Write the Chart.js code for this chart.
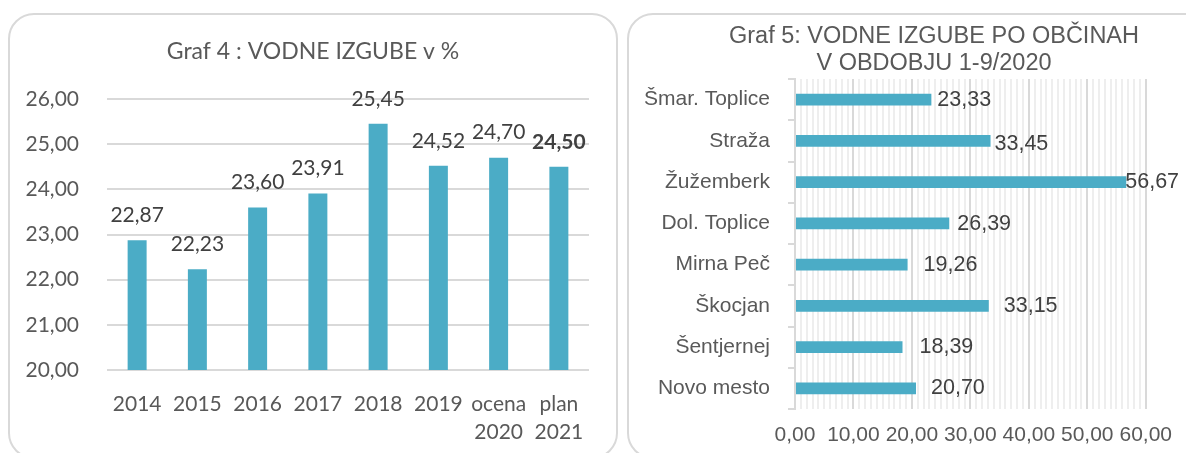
<!DOCTYPE html>
<html><head><meta charset="utf-8">
<script src="https://cdn.jsdelivr.net/npm/chart.js@4.4.1/dist/chart.umd.min.js"></script>
<style>
html,body{margin:0;padding:0;background:#fff;width:1186px;height:453px;overflow:hidden;position:relative}
.panel{position:absolute;border:2px solid #d9d9d9;border-radius:26px;box-sizing:border-box}
#p1{left:8px;top:13px;width:610px;height:446px}
#p2{left:627px;top:13px;width:590px;height:446px}
.cv{position:absolute;top:0}
#w1{left:0;width:620px;height:453px}
#w2{left:620px;width:566px;height:453px}
</style></head><body>
<div class="panel" id="p1"></div><div class="panel" id="p2"></div>
<div class="cv" id="w1"><canvas id="c1" width="620" height="453"></canvas></div>
<div class="cv" id="w2"><canvas id="c2" width="566" height="453"></canvas></div>
<script>
// ---- data ----
const years = ['2014','2015','2016','2017','2018','2019',['ocena','2020'],['plan','2021']];
const losses = [22.87,22.23,23.60,23.91,25.45,24.52,24.70,24.50];
const lossAxisMin = 20, lossAxisMax = 26, lossAxisStep = 1;
const title1 = ['Graf 4 : VODNE IZGUBE v %'];

const municipalities = ['Šmar. Toplice','Straža','Žužemberk','Dol. Toplice','Mirna Peč','Škocjan','Šentjernej','Novo mesto'];
const municipalLosses = [23.33,33.45,56.67,26.39,19.26,33.15,18.39,20.70];
const muniAxisMin = 0, muniAxisMax = 60, muniMajorStep = 10;
const title2 = ['Graf 5: VODNE IZGUBE PO OBČINAH','V OBDOBJU 1-9/2020'];

// ---- helpers ----
const fmt = v => Number(v).toFixed(2).replace('.', ',');
const BAR = '#4bacc6';
const ARIAL = '"Liberation Sans", Arial, sans-serif';

const valueLabels = {
  id: 'valueLabels',
  afterDatasetsDraw(chart, args, o) {
    const ctx = chart.ctx;
    const meta = chart.getDatasetMeta(0);
    const data = chart.data.datasets[0].data;
    ctx.save();
    ctx.fillStyle = o.color;
    ctx.textBaseline = 'middle';
    meta.data.forEach((el, i) => {
      ctx.font = (o.boldIndex === i ? 'bold ' : '') + o.size + 'px ' + o.family;
      if (o.horizontal) {
        ctx.textAlign = 'left';
        ctx.fillText(fmt(data[i]), el.x + (o.gaps ? o.gaps[i] : 8), el.y + (o.dy ? o.dy[i] : 0));
      } else {
        ctx.textAlign = 'center';
        ctx.fillText(fmt(data[i]), el.x, el.y - o.lift);
      }
    });
    ctx.restore();
  }
};

const chartTitle = {
  id: 'chartTitle',
  afterDraw(chart, args, o) {
    const ctx = chart.ctx;
    ctx.save();
    ctx.fillStyle = o.color;
    ctx.font = o.size + 'px ' + o.family;
    ctx.textAlign = 'center';
    ctx.textBaseline = 'middle';
    o.lines.forEach((t, i) => ctx.fillText(t, o.x, o.y + i * o.gap));
    ctx.restore();
  }
};

// ---- chart 1 ----
new Chart(document.getElementById('c1'), {
  type: 'bar',
  data: { labels: years, datasets: [{ data: losses, backgroundColor: BAR, barPercentage: 0.315, categoryPercentage: 1 }] },
  options: {
    responsive: false, animation: false,
    layout: { padding: { left: 0, right: 31, top: 99, bottom: 0 } },
    plugins: {
      legend: { display: false }, tooltip: { enabled: false }, title: { display: false },
      chartTitle: { lines: title1, x: 313, y: 52, gap: 0, size: 23, family: 'Lato', color: '#595959' },
      valueLabels: { color: '#404040', size: 21, family: 'Lato', lift: 25, boldIndex: 7 }
    },
    scales: {
      x: {
        grid: { display: false, drawTicks: false }, border: { display: false },
        ticks: { color: '#595959', font: { family: 'Lato', size: 21, lineHeight: 1.333 }, padding: 20, maxRotation: 0, autoSkip: false },
        afterFit: s => { s.height = 83; }
      },
      y: {
        min: lossAxisMin, max: lossAxisMax,
        grid: { color: '#d9d9d9', lineWidth: 2, drawTicks: false }, border: { display: false },
        ticks: { stepSize: lossAxisStep, color: '#595959', font: { family: 'Lato', size: 21 }, padding: 28, callback: v => fmt(v) },
        afterFit: s => { s.width = 107; }
      }
    }
  },
  plugins: [valueLabels, chartTitle]
});

// ---- chart 2 ----
const isMajor = v => Math.abs(v - Math.round(v / muniMajorStep) * muniMajorStep) < 1e-6;
new Chart(document.getElementById('c2'), {
  type: 'bar',
  data: { labels: municipalities, datasets: [{ data: municipalLosses, backgroundColor: BAR, barPercentage: 0.29, categoryPercentage: 1 }] },
  options: {
    indexAxis: 'y',
    responsive: false, animation: false,
    layout: { padding: { left: 0, right: 32, top: 79, bottom: 0 } },
    plugins: {
      legend: { display: false }, tooltip: { enabled: false }, title: { display: false },
      chartTitle: { lines: title2, x: 314, y: 37, gap: 27, size: 23.5, family: ARIAL, color: '#595959' },
      valueLabels: { horizontal: true, color: '#404040', size: 21.5, family: ARIAL,
        gaps: [6, 4, -1, 8, 16, 15, 17, 15], dy: [0, 3, 0, 1, 0, 0, 0, 0] }
    },
    scales: {
      x: {
        min: muniAxisMin, max: muniAxisMax,
        grid: {
          drawTicks: false,
          color: c => isMajor(c.tick.value) ? '#d9d9d9' : '#eeeeee',
          lineWidth: 2
        },
        border: { display: false },
        ticks: { stepSize: 1, autoSkip: false, maxRotation: 0, color: '#595959',
          font: { family: ARIAL, size: 21 }, padding: 14,
          callback: v => isMajor(v) ? fmt(v) : '' },
        afterFit: s => { s.height = 44; }
      },
      y: {
        grid: { drawOnChartArea: false, drawTicks: true, tickLength: 7, color: '#d9d9d9', lineWidth: 2, offset: true },
        border: { display: true, color: '#d9d9d9', width: 2 },
        ticks: { color: '#595959', font: { family: ARIAL, size: 21 }, padding: 18 },
        afterFit: s => { s.width = 175; }
      }
    }
  },
  plugins: [valueLabels, chartTitle]
});
</script>
</body></html>
